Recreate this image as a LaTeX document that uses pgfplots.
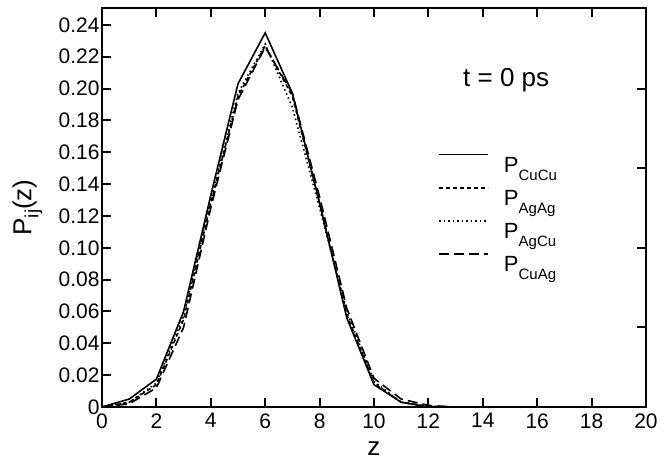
\documentclass[border=0pt]{standalone}
\usepackage{pgfplots}
\pgfplotsset{compat=1.18}
\usepackage{fontspec}
\setmainfont{Liberation Sans}
\newcommand{\sub}[1]{\raisebox{-8pt}{\fontsize{15}{18}\selectfont #1}}
\newcommand{\ysub}[1]{\raisebox{-7pt}{\fontsize{19}{22}\selectfont #1}}

\begin{document}
\begin{tikzpicture}
\useasboundingbox (-102pt,-54pt) rectangle (568pt,407pt);
\begin{axis}[
    scale only axis, width=544pt, height=399pt,
    xmin=0, xmax=20, ymin=0, ymax=0.2506,
    xtick={0,2,4,6,8,10,12,14,16,18,20},
    ytick={0,0.02,0.04,0.06,0.08,0.10,0.12,0.14,0.16,0.18,0.20,0.22,0.24},
    yticklabels={0,0.02,0.04,0.06,0.08,0.10,0.12,0.14,0.16,0.18,0.20,0.22,0.24},
    ytick pos=left,
    tick align=inside,
    major tick length=9pt,
    axis line style={line width=2.6pt},
    every tick/.style={line width=2pt, black},
    xticklabel style={font=\fontsize{21}{24}\selectfont, yshift=-3pt},
    yticklabel style={font=\fontsize{21}{24}\selectfont, xshift=1pt},
    /pgf/number format/assume math mode=true,
    xlabel={z}, ylabel={P\ysub{ij}(z)},
    label style={font=\fontsize{26}{30}\selectfont},
    xlabel style={at={(axis description cs:0.5,-0.104)}, anchor=center, inner sep=1pt},
    ylabel style={at={(axis description cs:-0.137,0.5)}, anchor=center},
    legend style={at={(0.618,0.635)}, anchor=north west, draw=none, fill=none,
        inner sep=0pt, font=\fontsize{22}{26}\selectfont, row sep=11pt},
    legend cell align=left,
    legend image code/.code={\draw[#1] (0pt,11pt) -- (49pt,11pt); \path (62pt,0pt);},
]
\addplot[black, line width=1.6pt] coordinates {
(0,0) (1,0.005) (2,0.0175) (3,0.06) (4,0.133) (5,0.203) (6,0.235) (7,0.197)
(8,0.128) (9,0.056) (10,0.014) (11,0.003) (12,0) (13,0) (14,0) (15,0)
(16,0) (17,0) (18,0) (19,0) (20,0)};
\addlegendentry{P\sub{CuCu}}
\addplot[black, line width=1.6pt, dash pattern=on 4pt off 3pt] coordinates {
(0,0) (1,0.003) (2,0.014) (3,0.055) (4,0.128) (5,0.195) (6,0.227) (7,0.195)
(8,0.128) (9,0.058) (10,0.015) (11,0.003) (12,0.0005) (13,0) (14,0)
(15,0) (16,0) (17,0) (18,0) (19,0) (20,0)};
\addlegendentry{P\sub{AgAg}}
\addplot[black, line width=1.6pt, dash pattern=on 1.5pt off 3pt] coordinates {
(0,0) (1,0.003) (2,0.015) (3,0.057) (4,0.13) (5,0.197) (6,0.228) (7,0.188)
(8,0.125) (9,0.06) (10,0.016) (11,0.003) (12,0) (13,0) (14,0) (15,0)
(16,0) (17,0) (18,0) (19,0) (20,0)};
\addlegendentry{P\sub{AgCu}}
\addplot[black, line width=1.6pt, dash pattern=on 10pt off 5pt] coordinates {
(0,0) (1,0.002) (2,0.012) (3,0.05) (4,0.125) (5,0.193) (6,0.226) (7,0.197)
(8,0.132) (9,0.062) (10,0.018) (11,0.005) (12,0.001) (13,0) (14,0)
(15,0) (16,0) (17,0) (18,0) (19,0) (20,0)};
\addlegendentry{P\sub{CuAg}}
\node[font=\fontsize{26}{30}\selectfont] at (rel axis cs:0.743,0.82) {t = 0 ps};
\end{axis}
\begin{axis}[
    scale only axis, width=544pt, height=399pt,
    xmin=0, xmax=20, ymin=0, ymax=0.2506,
    hide x axis,
    ytick pos=right,
    ytick={0.05,0.10,0.15,0.20},
    yticklabel=\empty,
    tick align=inside,
    major tick length=9pt,
    axis line style={line width=2.6pt},
    every tick/.style={line width=2pt, black},
]
\end{axis}
\end{tikzpicture}
\end{document}
